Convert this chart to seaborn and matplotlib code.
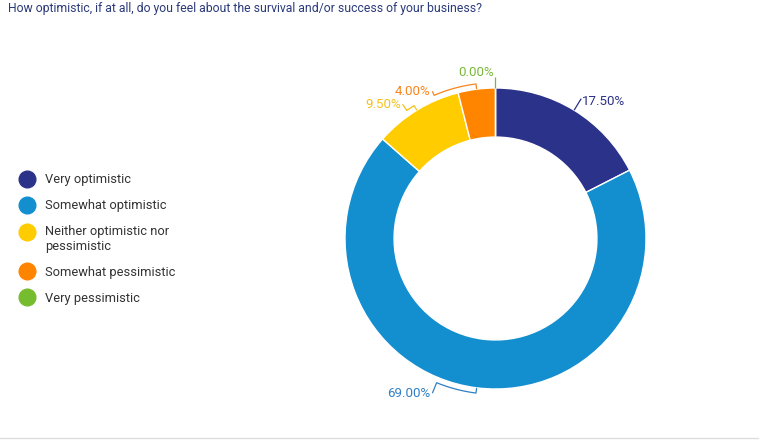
import numpy as np
import matplotlib
matplotlib.use("Agg")
import matplotlib.pyplot as plt
import seaborn as sns
from matplotlib.lines import Line2D

sns.set_theme(style="white")
plt.rcParams['font.family'] = ['Roboto', 'DejaVu Sans']

# ---- data ----
title = "How optimistic, if at all, do you feel about the survival and/or success of your business?"
categories = ["Very optimistic", "Somewhat optimistic", "Neither optimistic nor\npessimistic",
              "Somewhat pessimistic", "Very pessimistic"]
values = [17.5, 69.0, 9.5, 4.0, 0.0]
colors = ["#2b3289", "#138fd0", "#ffcc00", "#ff8400", "#76bc2f"]
label_colors = ["#2b3289", "#2f7fc4", "#f5c21a", "#f7851e", "#7ab83a"]

# ---- layout (style) ----
W, H = 766, 445
fig = plt.figure(figsize=(W / 100, H / 100), dpi=100)
fig.patch.set_facecolor("white")

cx, cy, R = 495.5, 238.5, 150.5
half = 180
ax = fig.add_axes([(cx - half) / W, (H - cy - half) / H, 2 * half / W, 2 * half / H])
ax.axis("off")

ax.pie(values, colors=colors, startangle=90, counterclock=False, radius=1.0,
       wedgeprops=dict(width=0.326, edgecolor="white", linewidth=1.0))

lim = half / R
ax.set_xlim(-lim, lim)
ax.set_ylim(-lim, lim)
ax.set_aspect("equal")

# leader/bracket layout: angular bracket length (deg, clockwise positive), label radius, alignment
bracket_len = [0.0, 15.0, -3.2, -16.0, 0.0]
label_r = [1.09, 1.11, 1.085, 1.065, 1.07]
aligns = ["left", "right", "right", "right", "right"]
rb = 1.035

def pt(angle_deg, r):
    a = np.deg2rad(angle_deg)
    return r * np.sin(a), r * np.cos(a)

total = sum(values)
cum = np.cumsum([0] + values[:-1])
for i, v in enumerate(values):
    mid = (cum[i] + v / 2) / total * 360.0
    end = mid + bracket_len[i]
    col = label_colors[i]
    x0, y0 = pt(mid, 1.0)
    xs, ys = [x0], [y0]
    if abs(bracket_len[i]) > 0:
        for a in np.linspace(mid, end, 20):
            x, y = pt(a, rb)
            xs.append(x); ys.append(y)
    lx, ly = pt(end, label_r[i])
    xs.append(lx); ys.append(ly)
    ax.plot(xs, ys, color=col, lw=0.9, solid_capstyle="butt")
    if i == 4:
        ax.text(lx - 0.01, ly + 0.035, f"{v:.2f}%", color=col, fontsize=9.6,
                ha="right", va="center")
    elif aligns[i] == "left":
        ax.text(lx + 0.008, ly - 0.02, f"{v:.2f}%", color=col,
                fontsize=9.6, ha="left", va="center")
    else:
        ax.text(lx - 0.012, ly, f"{v:.2f}%", color=col,
                fontsize=9.6, ha="right", va="center")

# title
fig.text(8 / W, 1 - 8.5 / H, title, color="#2b3a7a", fontsize=8.8, ha="left", va="center")

# legend
handles = [Line2D([0], [0], marker="o", linestyle="none", markersize=12,
                  markerfacecolor=c, markeredgecolor=c) for c in colors]
leg = fig.legend(handles, categories, loc="upper left",
                 bbox_to_anchor=(14 / W, 1 - 168 / H), frameon=False,
                 fontsize=9.3, labelspacing=1.0, handletextpad=0.8,
                 handlelength=1.2, borderaxespad=0)
for t in leg.get_texts():
    t.set_color("#333333")
# align the marker of the two-line entry with its first line
for h, lab in zip(leg.legend_handles, categories):
    if "\n" in lab:
        yd = np.asarray(h.get_ydata(), dtype=float)
        h.set_ydata(yd + 5.4)

# bottom separator line
fig.add_artist(Line2D([0, 758 / W], [1 - 438 / H, 1 - 438 / H],
                      transform=fig.transFigure, color="#dddddd", lw=1))

fig.savefig("out.png", dpi=100, facecolor="white")
